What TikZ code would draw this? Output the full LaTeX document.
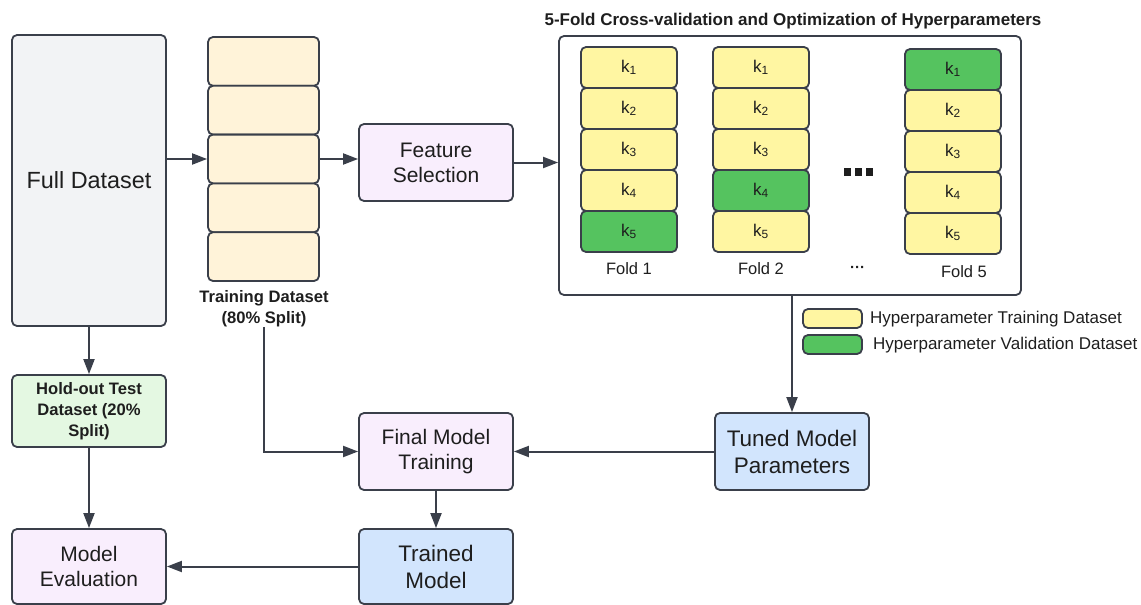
\documentclass[tikz,border=0pt]{standalone}
\usepackage{fontspec}
\setmainfont{Liberation Sans}
\usetikzlibrary{arrows.meta}
\definecolor{linec}{HTML}{3A3F4A}
\definecolor{textc}{HTML}{1E1E1E}
\definecolor{fullgray}{HTML}{F2F3F5}
\definecolor{cream}{HTML}{FFF3D9}
\definecolor{lav}{HTML}{F9EEFD}
\definecolor{mint}{HTML}{E4F8E2}
\definecolor{lblue}{HTML}{D2E5FD}
\definecolor{kyellow}{HTML}{FFF6A2}
\definecolor{kgreen}{HTML}{55C35F}
\newcommand{\kk}[1]{k\textsubscript{#1}}
\begin{document}
\begin{tikzpicture}[x=1pt,y=-1pt,
  box/.style={draw=linec, line width=1.8pt, rounded corners=5pt, align=center, inner sep=0pt, text=textc},
  arr/.style={draw=linec, line width=2pt, -{Triangle[length=15pt,width=11pt]}},
  fmid/.style={font=\fontsize{21}{25}\selectfont},
  fbig/.style={font=\fontsize{22.5}{27}\selectfont},
  fbold/.style={font=\fontsize{16.6}{21}\selectfont\bfseries},
  kcell/.style={box, minimum width=96pt, minimum height=41pt, font=\fontsize{17}{18}\selectfont},
  legcell/.style={box, minimum width=59pt, minimum height=19pt},
  ltxt/.style={anchor=west, inner sep=0pt, text=textc, font=\fontsize{17}{20}\selectfont}
]
\useasboundingbox (0,0) rectangle (1141,605);

% Full dataset
\node[box, fill=fullgray, minimum width=154pt, minimum height=291pt, font=\fontsize{23.4}{28}\selectfont] (fd) at (89,180.5) {Full Dataset};

% Training stack
\foreach \r in {1,...,5} {
  \pgfmathsetmacro{\yy}{37+24.4+48.8*(\r-1)}
  \node[box, fill=cream, minimum width=111pt, minimum height=48.8pt] (t\r) at (263.5,\yy) {};
}
\node[fbold, align=center, inner sep=0pt, text=textc] (tlab) at (264,308.5) {Training Dataset\\(80\% Split)};

% Feature selection
\node[box, fill=lav, fmid, minimum width=154pt, minimum height=77pt] (fs) at (436,162.5) {Feature\\Selection};

% CV box
\node[box, minimum width=462pt, minimum height=259pt] (cv) at (790,165.5) {};
\node[inner sep=0pt, text=textc, font=\fontsize{17}{20}\selectfont\bfseries] (cvtitle) at (793,21) {5-Fold Cross-validation and Optimization of Hyperparameters};

\foreach \c/\x/\dy/\g in {1/629/0/5, 2/761/0/4, 5/953/2/1} {
  \foreach \r in {1,...,5} {
    \pgfmathsetmacro{\yy}{67.5+41*(\r-1)+\dy}
    \ifnum\r=\g \def\cc{kgreen}\else\def\cc{kyellow}\fi
    \node[kcell, fill=\cc] (f\c k\r) at (\x,\yy) {\kk{\r}};
  }
}
\node[inner sep=0pt, text=textc, font=\fontsize{16.5}{20}\selectfont] (fl1) at (629,269) {Fold 1};
\node[inner sep=0pt, text=textc, font=\fontsize{16.5}{20}\selectfont] (fl2) at (761,269) {Fold 2};
\node[inner sep=0pt, text=textc, font=\fontsize{16.5}{20}\selectfont] (fl5) at (964,272) {Fold 5};
\node[inner sep=0pt, text=textc, font=\fontsize{15}{16}\selectfont\bfseries] (fldots) at (857.5,269) {···};
\foreach \i in {0,1,2} {
  \fill[textc] (843.5+11*\i,168) rectangle ++(7.5,8);
}

% Legend
\node[legcell, fill=kyellow] (ly) at (832.5,318.5) {};
\node[legcell, fill=kgreen] (lg) at (832.5,344.5) {};
\node[ltxt] (lyt) at (870,319) {Hyperparameter Training Dataset};
\node[ltxt] (lgt) at (873,345) {Hyperparameter Validation Dataset};

% Lower nodes
\node[box, fill=mint, fbold, minimum width=154pt, minimum height=72pt] (ho) at (89,411) {Hold-out Test\\Dataset (20\%\\Split)};
\node[box, fill=lav, fmid, minimum width=154pt, minimum height=75pt] (me) at (89,566.5) {Model\\Evaluation};
\node[box, fill=lav, fmid, minimum width=154pt, minimum height=77pt] (fm) at (436,451.5) {Final Model\\Training};
\node[box, fill=lblue, fbig, minimum width=154pt, minimum height=75pt] (tm) at (436,566.5) {Trained\\Model};
\node[box, fill=lblue, fbig, minimum width=154pt, minimum height=77pt] (tp) at (792,451.5) {Tuned Model\\Parameters};

% Connectors
\draw[arr] (fd.east |- t3) -- (t3.west);
\draw[arr] (t3.east) -- (t3.east -| fs.west);
\draw[arr] (fs.east) -- (fs.east -| cv.west);
\draw[arr] (fd.south) -- (ho.north);
\draw[arr] (ho.south) -- (me.north);
\draw[arr] (tlab.south) |- (fm.west);
\draw[arr] (cv.south -| tp.north) -- (tp.north);
\draw[arr] (tp.west) -- (fm.east);
\draw[arr] (fm.south) -- (tm.north);
\draw[arr] (tm.west) -- (me.east);
\end{tikzpicture}
\end{document}
